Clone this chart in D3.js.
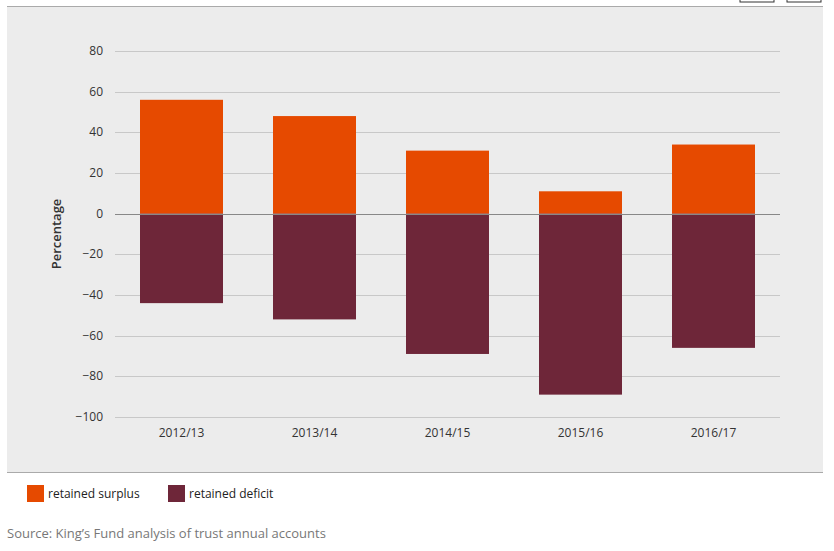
<!DOCTYPE html>
<html><head><meta charset="utf-8">
<script src="https://cdn.jsdelivr.net/npm/d3@7"></script>
<style>body{margin:0;background:#fff;font-family:"Open Sans",sans-serif}</style>
</head><body><svg id="c" width="834" height="551"></svg>
<script>
const categories=["2012/13","2013/14","2014/15","2015/16","2016/17"];
const surplus=[56,48,31,11,34];
const deficit=[-44,-52,-69,-89,-66];
const yTicks=[80,60,40,20,0,-20,-40,-60,-80,-100];
const seriesNames=["retained surplus","retained deficit"];
const colors=["#e64a00","#6e2639"];

const svg=d3.select("#c");
svg.append("rect").attr("x",7).attr("y",7).attr("width",816).attr("height",465).attr("fill","#ececec");
svg.append("line").attr("x1",7).attr("x2",823).attr("y1",6.5).attr("y2",6.5).attr("stroke","#aaa");
svg.append("line").attr("x1",7).attr("x2",823).attr("y1",472.5).attr("y2",472.5).attr("stroke","#aaa");
svg.append("rect").attr("x",740).attr("y",-3).attr("width",34).attr("height",5).attr("fill","#fff").attr("stroke","#333");
svg.append("rect").attr("x",787).attr("y",-3).attr("width",34).attr("height",5).attr("fill","#fff").attr("stroke","#333");

const x=d3.scaleBand().domain(categories).range([115,780]).paddingInner(0.376).paddingOuter(0.188);
const y=d3.scaleLinear().domain([-100,80]).range([417,51]);

const g=svg.append("g");
yTicks.forEach(t=>{
  g.append("line").attr("x1",115).attr("x2",780).attr("y1",Math.round(y(t))+0.5).attr("y2",Math.round(y(t))+0.5)
   .attr("stroke",t===0?"#888":"#c8c8c8");
  g.append("text").attr("x",103).attr("y",y(t)+4).attr("text-anchor","end").attr("font-size",12).attr("fill","#333")
   .text(t<0?"\u2212"+(-t):t);
});
g.selectAll(".s").data(surplus).join("rect").attr("x",(d,i)=>x(categories[i])).attr("width",x.bandwidth())
 .attr("y",d=>y(d)).attr("height",d=>y(0)-y(d)).attr("fill",colors[0]);
g.selectAll(".d").data(deficit).join("rect").attr("x",(d,i)=>x(categories[i])).attr("width",x.bandwidth())
 .attr("y",y(0)).attr("height",d=>y(d)-y(0)).attr("fill",colors[1]);
g.append("line").attr("x1",115).attr("x2",780).attr("y1",Math.round(y(0))+0.5).attr("y2",Math.round(y(0))+0.5).attr("stroke","#888");
categories.forEach(c=>{
  g.append("text").attr("x",x(c)+x.bandwidth()/2).attr("y",437).attr("text-anchor","middle").attr("font-size",12).attr("fill","#333").text(c);
});
svg.append("text").attr("transform","translate(61,234) rotate(-90)").attr("text-anchor","middle")
 .attr("font-size",13).attr("font-weight","600").attr("fill","#333").text("Percentage");

const lx=[27,168];
seriesNames.forEach((n,i)=>{
  svg.append("rect").attr("x",lx[i]).attr("y",485).attr("width",17).attr("height",17).attr("fill",colors[i]);
  svg.append("text").attr("x",lx[i]+21).attr("y",498).attr("font-size",12).attr("fill","#222").text(n);
});
svg.append("text").attr("x",7).attr("y",538).attr("font-size",13).attr("fill","#777").text("Source: King\u2019s Fund analysis of trust annual accounts");
</script></body></html>
